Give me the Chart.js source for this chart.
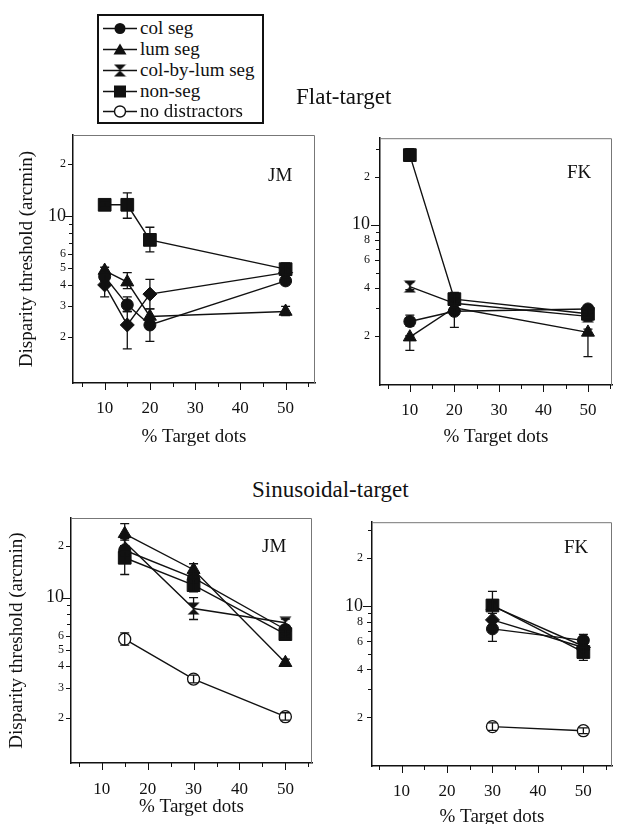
<!DOCTYPE html>
<html>
<head>
<meta charset="utf-8">
<script src="https://cdn.jsdelivr.net/npm/chart.js@4.4.1/dist/chart.umd.min.js"></script>
<style>
  body { margin: 0; background: #fff; font-family: "Liberation Serif", "Times New Roman", serif; color: #111; }
  #page { position: relative; width: 622px; height: 824px; overflow: hidden; background: #fff; }
  #page canvas.panel { position: absolute; }
  .title { position: absolute; font-size: 23px; line-height: 23px; white-space: nowrap; }
  .who { position: absolute; font-size: 19px; line-height: 19px; white-space: nowrap; }
  #legend { position: absolute; left: 97px; top: 14px; width: 167px; height: 110px; box-sizing: border-box; border: 2px solid #111; }
  #legend .row { position: absolute; left: 0; height: 21px; }
  #legend .row canvas { position: absolute; left: 4px; top: 0; }
  #legend .row span { position: absolute; left: 41px; top: 0; font-size: 19px; line-height: 19px; white-space: nowrap; }
</style>
</head>
<body>
<div id="page">
  <div id="legend"></div>
  <div class="title" style="left:296px;top:85px">Flat-target</div>
  <div class="title" style="left:252px;top:478px">Sinusoidal-target</div>

  <canvas class="panel" id="flatJm" width="325" height="335" style="left:0;top:120px"></canvas>
  <canvas class="panel" id="flatFk" width="297" height="334" style="left:325px;top:121px"></canvas>
  <canvas class="panel" id="sinJm" width="322" height="321" style="left:0;top:503px"></canvas>
  <canvas class="panel" id="sinFk" width="297" height="330" style="left:325px;top:506px"></canvas>

  <div class="who" style="left:268px;top:165px">JM</div>
  <div class="who" style="left:567px;top:162px">FK</div>
  <div class="who" style="left:262px;top:536px">JM</div>
  <div class="who" style="left:564px;top:537px">FK</div>
</div>

<script>
const FONT = '"Liberation Serif", "Times New Roman", serif';

// legend entries
const seriesNames = ["col seg", "lum seg", "col-by-lum seg", "non-seg", "no distractors"];
const seriesMarkers = ["circle", "triangle", "hourglass", "square", "open"];

// axis ticks
const xMajorTicks = [10, 20, 30, 40, 50];
const xMinorTicks = [5, 15, 25, 35, 45, 55];
const jmYTicks  = [2, 3, 4, 5, 6, 7, 8, 9, 10, 20];
const jmYLabels = ["2", "3", "4", "5", "6", "", "", "", "10", "2"];
const fkYTicks  = [2, 3, 4, 5, 6, 7, 8, 9, 10, 20, 30];
const fkYLabels = ["2", "", "4", "", "6", "", "8", "", "10", "2", ""];

// Flat-target, JM
const flatJmX = [10, 15, 20, 50];
const flatJmColSeg = [4.46, 3.06, 2.34, 4.21];
const flatJmColSegErr = [[4.2, 4.8], [2.8, 3.4], [1.88, 2.6], [4.0, 4.5]];
const flatJmLumSeg = [4.83, 4.14, 2.62, 2.80];
const flatJmLumSegErr = [[4.6, 5.05], [3.8, 4.7], [2.45, 2.9], [2.65, 3.0]];
const flatJmColByLum = [3.99, 2.34, 3.53, 4.70];
const flatJmColByLumErr = [[3.4, 4.2], [1.7, 2.8], [2.9, 4.3], [4.4, 5.0]];
const flatJmNonSeg = [11.6, 11.6, 7.27, 4.92];
const flatJmNonSegErr = [[11.2, 12.0], [9.7, 13.6], [6.2, 8.6], [4.6, 5.35]];

// Flat-target, FK
const flatFkX = [10, 20, 50];
const flatFkColSeg = [2.46, 2.85, 2.95];
const flatFkColSegErr = [[2.3, 2.7], [2.26, 3.0], [2.8, 3.1]];
const flatFkLumSeg = [1.96, 3.0, 2.1];
const flatFkLumSegErr = [[1.62, 2.0], [2.8, 3.2], [1.48, 2.2]];
const flatFkColByLum = [4.08, 3.2, 2.65];
const flatFkColByLumErr = [[3.9, 4.35], [3.0, 3.4], [2.5, 2.8]];
const flatFkNonSeg = [27.4, 3.4, 2.75];
const flatFkNonSegErr = [[25.0, 30.1], [3.1, 3.75], [2.6, 2.9]];

// Sinusoidal-target, JM
const sinJmX = [15, 30, 50];
const sinJmColSeg = [18.8, 13.0, 6.53];
const sinJmColSegErr = [[17.5, 20.0], [12.2, 13.8], [6.2, 6.9]];
const sinJmLumSeg = [23.4, 14.5, 4.19];
const sinJmLumSegErr = [[21.5, 26.8], [13.5, 15.7], [4.0, 4.4]];
const sinJmColByLum = [21.0, 8.64, 7.14];
const sinJmColByLumErr = [[20.0, 22.0], [7.46, 10.0], [6.8, 7.5]];
const sinJmNonSeg = [17.0, 11.8, 6.14];
const sinJmNonSegErr = [[13.6, 18.5], [10.8, 12.8], [5.8, 6.5]];
const sinJmNoDist = [5.74, 3.37, 2.04];
const sinJmNoDistErr = [[5.3, 6.25], [3.2, 3.55], [1.95, 2.15]];

// Sinusoidal-target, FK
const sinFkX = [30, 50];
const sinFkColSeg = [7.2, 6.1];
const sinFkColSegErr = [[6.0, 7.6], [5.8, 6.65]];
const sinFkLumSeg = [10.0, 5.6];
const sinFkLumSegErr = [[9.5, 10.6], [5.3, 5.9]];
const sinFkColByLum = [8.2, 5.5];
const sinFkNonSeg = [10.1, 5.15];
const sinFkNonSegErr = [[9.0, 12.4], [4.57, 5.5]];
const sinFkNoDist = [1.75, 1.65];
const sinFkNoDistErr = [[1.66, 1.85], [1.58, 1.72]];

// hourglass marker (col-by-lum seg)
function makeHourglass(s) {
  const c = document.createElement("canvas");
  c.width = s; c.height = s;
  const g = c.getContext("2d");
  g.fillStyle = "#111";
  g.beginPath(); g.moveTo(0.5, 0.5); g.lineTo(s - 0.5, 0.5); g.lineTo(s / 2, s / 2); g.closePath(); g.fill();
  g.beginPath(); g.moveTo(0.5, s - 0.5); g.lineTo(s - 0.5, s - 0.5); g.lineTo(s / 2, s / 2); g.closePath(); g.fill();
  return c;
}
const hourglassImg = makeHourglass(13);

function pointOpts(marker) {
  const base = { pointBorderColor: "#111", pointBackgroundColor: "#111", pointBorderWidth: 1 };
  switch (marker) {
    case "circle":   return { ...base, pointStyle: "circle", pointRadius: 6 };
    case "triangle": return { ...base, pointStyle: "triangle", pointRadius: 7.5 };
    case "diamond":  return { ...base, pointStyle: "rectRot", pointRadius: 7 };
    case "square":   return { ...base, pointStyle: "rect", pointRadius: 9 };
    case "hourglass":return { ...base, pointStyle: hourglassImg, pointRadius: 7 };
    case "open":     return { ...base, pointStyle: "circle", pointRadius: 6, pointBackgroundColor: "#fff", pointBorderWidth: 1.3 };
  }
}

function series(label, xs, ys, err, marker) {
  return {
    label,
    data: xs.map((x, i) => ({ x, y: ys[i] })),
    err: err || null,
    borderColor: "#111",
    borderWidth: 1.4,
    tension: 0,
    fill: false,
    ...pointOpts(marker)
  };
}

// error bars drawn through the scales
const errorBars = {
  id: "errorBars",
  afterDatasetsDraw(chart) {
    const { ctx, scales: { x, y } } = chart;
    ctx.save();
    ctx.strokeStyle = "#111";
    ctx.lineWidth = 1.3;
    chart.data.datasets.forEach(ds => {
      if (!ds.err) return;
      ds.data.forEach((p, i) => {
        const e = ds.err[i];
        if (!e) return;
        const px = x.getPixelForValue(p.x);
        const lo = y.getPixelForValue(e[0]);
        const hi = y.getPixelForValue(e[1]);
        ctx.beginPath();
        ctx.moveTo(px, lo); ctx.lineTo(px, hi);
        ctx.moveTo(px - 4.5, lo); ctx.lineTo(px + 4.5, lo);
        ctx.moveTo(px - 4.5, hi); ctx.lineTo(px + 4.5, hi);
        ctx.stroke();
      });
    });
    ctx.restore();
  }
};

// box round the plot and the outward tick marks
const frame = {
  id: "frame",
  afterDraw(chart, args, opts) {
    const { ctx, chartArea: a, scales: { x, y } } = chart;
    ctx.save();
    ctx.strokeStyle = "#777";
    ctx.lineWidth = 1;
    ctx.beginPath();
    ctx.moveTo(a.left, a.top + 0.5); ctx.lineTo(a.right - 0.5, a.top + 0.5); ctx.lineTo(a.right - 0.5, a.bottom);
    ctx.stroke();
    ctx.strokeStyle = "#111";
    ctx.beginPath();
    xMajorTicks.forEach(v => {
      const px = Math.round(x.getPixelForValue(v)) + 0.5;
      ctx.moveTo(px, a.bottom); ctx.lineTo(px, a.bottom + 7);
    });
    xMinorTicks.forEach(v => {
      if (v < x.min || v > x.max) return;
      const px = Math.round(x.getPixelForValue(v)) + 0.5;
      ctx.moveTo(px, a.bottom); ctx.lineTo(px, a.bottom + 4);
    });
    opts.yTicks.forEach((v, i) => {
      const py = Math.round(y.getPixelForValue(v)) + 0.5;
      const len = v === 10 ? 9 : (opts.yLabels[i] ? 5 : 4);
      ctx.moveTo(a.left - len, py); ctx.lineTo(a.left, py);
    });
    ctx.stroke();
    ctx.restore();
  }
};

function makePanel(id, datasets, o) {
  return new Chart(document.getElementById(id), {
    type: "line",
    data: { datasets },
    options: {
      responsive: false,
      animation: false,
      layout: { padding: { top: 15, right: o.padRight, left: 0, bottom: 0 } },
      plugins: {
        legend: { display: false },
        tooltip: { enabled: false },
        frame: { yTicks: o.yTicks, yLabels: o.yLabels }
      },
      scales: {
        x: {
          type: "linear",
          min: o.xMin, max: o.xMax,
          afterBuildTicks: s => { s.ticks = xMajorTicks.map(v => ({ value: v })); },
          afterFit: s => { s.height = o.xHeight; },
          grid: { display: false, drawTicks: false },
          border: { display: true, color: "#111", width: 1.5 },
          ticks: {
            color: "#111", autoSkip: false, maxRotation: 0, padding: o.xTickPad,
            font: { family: FONT, size: 17 },
            callback: v => String(v)
          },
          title: {
            display: true, text: "% Target dots", color: "#111",
            font: { family: FONT, size: 19 },
            padding: { top: 0, bottom: o.xTitlePad }
          }
        },
        y: {
          type: "logarithmic",
          min: o.yMin, max: o.yMax,
          afterBuildTicks: s => { s.ticks = o.yTicks.map(v => ({ value: v })); },
          afterFit: s => { s.width = o.yWidth; },
          grid: { display: false, drawTicks: false },
          border: { display: true, color: "#111", width: 1.5 },
          ticks: {
            color: "#111", autoSkip: false, padding: o.yTickPad,
            font: c => ({ family: FONT, size: c.tick && c.tick.value === 10 ? 18 : 12 }),
            callback: v => { const i = o.yTicks.indexOf(v); return i < 0 ? "" : o.yLabels[i]; }
          },
          title: {
            display: !!o.yTitle, text: "Disparity threshold (arcmin)", color: "#111",
            font: { family: FONT, size: 19 },
            padding: { top: o.yTitlePad || 0, bottom: 0 }
          }
        }
      }
    },
    plugins: [frame, errorBars]
  });
}

makePanel("flatJm", [
  series(seriesNames[0], flatJmX, flatJmColSeg, flatJmColSegErr, "circle"),
  series(seriesNames[1], flatJmX, flatJmLumSeg, flatJmLumSegErr, "triangle"),
  series(seriesNames[2], flatJmX, flatJmColByLum, flatJmColByLumErr, "diamond"),
  series(seriesNames[3], flatJmX, flatJmNonSeg, flatJmNonSegErr, "square")
], { xMin: 3.0, xMax: 56.5, yMin: 1.08, yMax: 29.4, yTicks: jmYTicks, yLabels: jmYLabels,
     padRight: 6, yWidth: 73, xHeight: 72, xTickPad: 15, xTitlePad: 7, yTickPad: 7, yTitle: true, yTitlePad: 16 });

makePanel("flatFk", [
  series(seriesNames[0], flatFkX, flatFkColSeg, flatFkColSegErr, "circle"),
  series(seriesNames[1], flatFkX, flatFkLumSeg, flatFkLumSegErr, "triangle"),
  series(seriesNames[2], flatFkX, flatFkColByLum, flatFkColByLumErr, "hourglass"),
  series(seriesNames[3], flatFkX, flatFkNonSeg, flatFkNonSegErr, "square")
], { xMin: 3.3, xMax: 55.4, yMin: 0.98, yMax: 35, yTicks: fkYTicks, yLabels: fkYLabels,
     padRight: 3, yWidth: 55, xHeight: 70, xTickPad: 15, xTitlePad: 7, yTickPad: 10, yTitle: false });

makePanel("sinJm", [
  series(seriesNames[0], sinJmX, sinJmColSeg, sinJmColSegErr, "circle"),
  series(seriesNames[1], sinJmX, sinJmLumSeg, sinJmLumSegErr, "triangle"),
  series(seriesNames[2], sinJmX, sinJmColByLum, sinJmColByLumErr, "hourglass"),
  series(seriesNames[3], sinJmX, sinJmNonSeg, sinJmNonSegErr, "square"),
  series(seriesNames[4], sinJmX, sinJmNoDist, sinJmNoDistErr, "open")
], { xMin: 3.3, xMax: 55.8, yMin: 1.1, yMax: 28.9, yTicks: jmYTicks, yLabels: jmYLabels,
     padRight: 8, yWidth: 71, xHeight: 61, xTickPad: 16, xTitlePad: 6, yTickPad: 7, yTitle: true, yTitlePad: 6 });

makePanel("sinFk", [
  series(seriesNames[0], sinFkX, sinFkColSeg, sinFkColSegErr, "circle"),
  series(seriesNames[1], sinFkX, sinFkLumSeg, sinFkLumSegErr, "triangle"),
  series(seriesNames[2], sinFkX, sinFkColByLum, null, "diamond"),
  series(seriesNames[3], sinFkX, sinFkNonSeg, sinFkNonSegErr, "square"),
  series(seriesNames[4], sinFkX, sinFkNoDist, sinFkNoDistErr, "open")
], { xMin: 3.5, xMax: 56.3, yMin: 0.99, yMax: 33.7, yTicks: fkYTicks, yLabels: fkYLabels,
     padRight: 7, yWidth: 47, xHeight: 70, xTickPad: 15, xTitlePad: 8, yTickPad: 9, yTitle: false });

// legend: line + marker glyph, then the name
function drawGlyph(g, marker, cx, cy) {
  g.fillStyle = "#111"; g.strokeStyle = "#111"; g.lineWidth = 1.4;
  g.beginPath();
  if (marker === "circle") { g.arc(cx, cy, 5.5, 0, Math.PI * 2); g.fill(); }
  else if (marker === "triangle") { g.moveTo(cx, cy - 6); g.lineTo(cx + 6.5, cy + 5); g.lineTo(cx - 6.5, cy + 5); g.closePath(); g.fill(); }
  else if (marker === "square") { g.rect(cx - 6, cy - 6, 12, 12); g.fill(); }
  else if (marker === "hourglass") { g.drawImage(hourglassImg, cx - 6.5, cy - 6.5); }
  else if (marker === "open") { g.arc(cx, cy, 5.5, 0, Math.PI * 2); g.fillStyle = "#fff"; g.fill(); g.stroke(); }
}
const legendEl = document.getElementById("legend");
const legendRowTops = [2, 23, 44, 65, 85];
seriesNames.forEach((name, i) => {
  const row = document.createElement("div");
  row.className = "row";
  row.style.top = legendRowTops[i] + "px";
  const c = document.createElement("canvas");
  c.width = 36; c.height = 21;
  const g = c.getContext("2d");
  g.strokeStyle = "#111"; g.lineWidth = 1.4;
  g.beginPath(); g.moveTo(0, 10.5); g.lineTo(34, 10.5); g.stroke();
  drawGlyph(g, seriesMarkers[i], 17, 10.5);
  const t = document.createElement("span");
  t.textContent = name;
  row.appendChild(c); row.appendChild(t);
  legendEl.appendChild(row);
});
</script>
</body>
</html>
